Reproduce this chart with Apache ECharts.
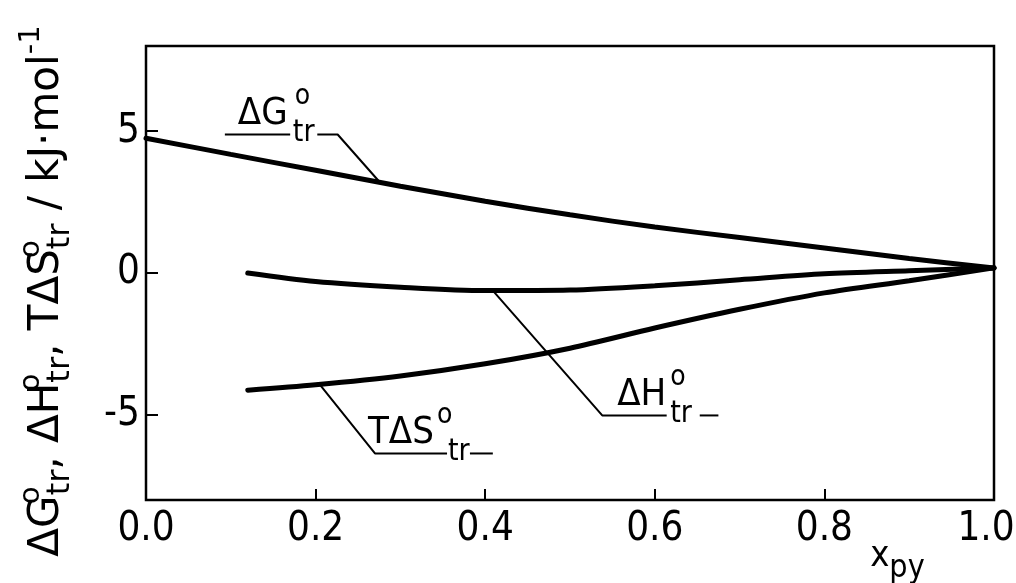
<!DOCTYPE html>
<html>

<head>
  <meta charset="utf-8" />
  <script src="https://cdn.jsdelivr.net/npm/echarts@6/dist/echarts.min.js"></script>
</head>

<body style="margin:0;background:#fff">
  <div id="main" style="width: 1016px;height:583px;"></div>
  <script type="text/javascript">
    var FONT = '"DejaVu Sans Condensed", "Liberation Sans Narrow", "DejaVu Sans", sans-serif'
    var WIDE = '"DejaVu Sans", sans-serif'

    var yTicks = [-5, 0, 5]

    // ΔG°tr over the whole range
    var xG = [0, 0.1, 0.2, 0.3, 0.4, 0.5, 0.6, 0.7, 0.8, 0.9, 1.0]
    var dG = [4.75, 4.18, 3.62, 3.06, 2.53, 2.05, 1.62, 1.25, 0.88, 0.51, 0.18]

    // ΔH°tr and TΔS°tr start at x = 0.12
    var xHS = [0.12, 0.2, 0.3, 0.4, 0.5, 0.6, 0.7, 0.8, 0.9, 1.0]
    var dH = [0.0, -0.3, -0.5, -0.62, -0.6, -0.45, -0.24, -0.03, 0.08, 0.18]
    var TdS = [-4.13, -3.94, -3.63, -3.2, -2.65, -1.94, -1.28, -0.7, -0.27, 0.18]

    // leader lines of the curve labels (data units)
    var leadG = [[[0.093, 4.88], [0.170, 4.88]], [[0.202, 4.88], [0.226, 4.88], [0.276, 3.19]]]
    var leadS = [[[0.205, -3.93], [0.270, -6.36], [0.355, -6.36]], [[0.382, -6.36], [0.409, -6.36]]]
    var leadH = [[[0.409, -0.62], [0.538, -5.02], [0.614, -5.02]], [[0.653, -5.02], [0.675, -5.02]]]

    var myChart = echarts.init(document.getElementById('main'))

    function pairs(xs, ys) {
      return xs.map(function (x, i) { return [x, ys[i]] })
    }

    function curve(data) {
      return {
        type: 'line', data: data, smooth: 0.3, symbol: 'none', silent: true, z: 3,
        lineStyle: { color: '#000', width: 5, cap: 'round' }
      }
    }

    function leader(data) {
      return {
        type: 'line', data: data, symbol: 'none', silent: true, z: 2,
        lineStyle: { color: '#000', width: 2 }
      }
    }

    var series = [curve(pairs(xG, dG)), curve(pairs(xHS, dH)), curve(pairs(xHS, TdS))]
    leadG.concat(leadS, leadH).forEach(function (d) { series.push(leader(d)) })

    var option = {
      animation: false,
      grid: {
        left: 146, right: 22, top: 46, bottom: 83, outerBoundsMode: 'none',
        show: true, borderColor: '#000', borderWidth: 2.5
      },
      xAxis: {
        type: 'value', min: 0, max: 1, interval: 0.2,
        axisLine: { show: false, onZero: false },
        splitLine: { show: false },
        axisTick: { inside: true, length: 11, lineStyle: { color: '#000', width: 2 } },
        axisLabel: {
          color: '#000', fontSize: 40, fontFamily: FONT, margin: 10,
          // the last label is pulled a little left so it stays on the page
          formatter: function (v) { return v === 1 ? '{r|1.0}' : v.toFixed(1) },
          rich: { r: { fontSize: 40, fontFamily: FONT, color: '#000', padding: [0, 16, 0, 0] } }
        }
      },
      yAxis: {
        type: 'value', min: -8, max: 8,
        axisLine: { show: false, onZero: false },
        splitLine: { show: false },
        axisTick: { inside: true, length: 12, customValues: yTicks, lineStyle: { color: '#000', width: 2 } },
        axisLabel: { color: '#000', fontSize: 40, fontFamily: FONT, margin: 6, customValues: yTicks }
      },
      series: series
    }
    myChart.setOption(option)

    function px(p) { return myChart.convertToPixel({ gridIndex: 0 }, p) }

    function text(x, y, s, size) {
      return {
        type: 'text', x: x, y: y, z: 10, silent: true,
        style: { text: s, fill: '#000', font: size + 'px ' + FONT, align: 'left', verticalAlign: 'middle' }
      }
    }

    // curve labels: main text, superscript o stacked over subscript tr
    var labels = [
      { at: [0.093, 4.88], main: 'ΔG', dx: 13, oDx: 70, trDx: 68 },
      { at: [0.270, -6.36], main: 'TΔS', dx: -7, oDx: 62, trDx: 73 },
      { at: [0.538, -5.02], main: 'ΔH', dx: 15, oDx: 68, trDx: 68 }
    ]
    var g = []
    labels.forEach(function (l) {
      var p = px(l.at)
      g.push(text(p[0] + l.dx, p[1] - 20, l.main, 38))
      g.push(text(p[0] + l.oDx, p[1] - 38, 'o', 28))
      g.push(text(p[0] + l.trDx, p[1] - 1, 'tr', 30))
    })

    // axis titles
    var p0 = px([0.854, -8])
    g.push({
      type: 'text', x: p0[0], y: p0[1] + 62, silent: true,
      style: {
        text: '{a|x}{b|py}', fill: '#000', align: 'left', verticalAlign: 'middle',
        rich: {
          a: { fontSize: 36, fontFamily: FONT, verticalAlign: 'top', lineHeight: 46 },
          b: { fontSize: 32, fontFamily: FONT, verticalAlign: 'bottom', lineHeight: 46 }
        }
      }
    })
    g.push({
      type: 'text', x: 47, y: 291, rotation: Math.PI / 2, silent: true,
      style: {
        text: '{m|ΔG}{o|o}{s|tr}{m|, ΔH}{o|o}{s|tr}{m|, TΔS}{o|o}{s|tr}{m| / kJ·mol}{e|-1}',
        align: 'center', verticalAlign: 'middle', fill: '#000',
        rich: {
          m: { fontSize: 42, fontFamily: WIDE, verticalAlign: 'middle', lineHeight: 60 },
          o: { fontSize: 29, fontFamily: WIDE, verticalAlign: 'top', width: 0, align: 'left', lineHeight: 60 },
          s: { fontSize: 32, fontFamily: WIDE, verticalAlign: 'bottom', lineHeight: 60 },
          e: { fontSize: 29, fontFamily: WIDE, verticalAlign: 'top', lineHeight: 60 }
        }
      }
    })
    myChart.setOption({ graphic: g })
  </script>
</body>

</html>
